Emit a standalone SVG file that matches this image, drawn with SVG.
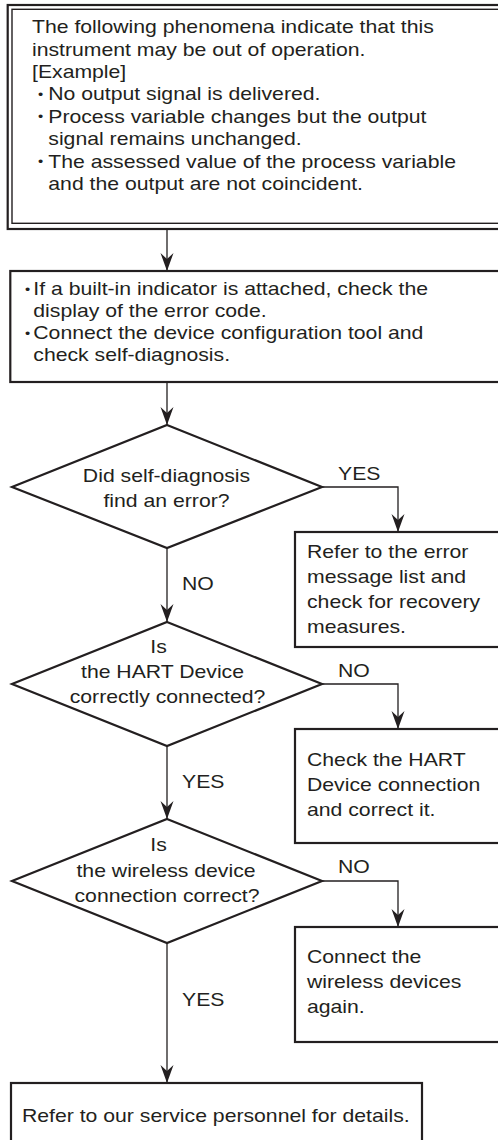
<svg xmlns="http://www.w3.org/2000/svg" width="498" height="1140" viewBox="0 0 498 1140">
<style>
.box{fill:#fff;stroke:#231f20;stroke-width:2.2}
.conn{fill:none;stroke:#231f20;stroke-width:1.3}
text{font-family:"Liberation Sans",Arial,sans-serif;font-size:18.6px;fill:#231f20}
.c{text-anchor:middle}
.b{font-size:13px}
</style>
<defs>
<marker id="arr" viewBox="-18 -7 19 14" refX="0" refY="0" markerWidth="19" markerHeight="14" markerUnits="userSpaceOnUse" orient="auto">
<path d="M0,0 L-18,-6.5 L-12,0 L-18,6.5 Z" fill="#231f20"/>
</marker>
</defs>
<rect width="498" height="1140" fill="#fff"/>

<g id="connectors">
<path class="conn" d="M167,229 V271" marker-end="url(#arr)"/>
<path class="conn" d="M167,382 V425" marker-end="url(#arr)"/>
<path class="conn" d="M322,487 H398 V532" marker-end="url(#arr)"/>
<path class="conn" d="M167,548 V622" marker-end="url(#arr)"/>
<path class="conn" d="M322,684 H398 V729" marker-end="url(#arr)"/>
<path class="conn" d="M167,746 V819" marker-end="url(#arr)"/>
<path class="conn" d="M322,881 H398 V927" marker-end="url(#arr)"/>
<path class="conn" d="M167,943 V1083" marker-end="url(#arr)"/>
<text transform="translate(338,480) scale(1.14,1)">YES</text>
<text transform="translate(182,590) scale(1.14,1)">NO</text>
<text transform="translate(338,677) scale(1.14,1)">NO</text>
<text transform="translate(182,788) scale(1.14,1)">YES</text>
<text transform="translate(338,873) scale(1.14,1)">NO</text>
<text transform="translate(182,1006) scale(1.14,1)">YES</text>
</g>

<g id="start">
<rect x="7.7" y="5" width="600" height="224" fill="#fff" stroke="#231f20" stroke-width="2.2"/>
<rect x="12" y="9.3" width="600" height="214" fill="none" stroke="#231f20" stroke-width="1.4"/>
<text transform="translate(32,33.3) scale(1.14,1)">The following phenomena indicate that this</text>
<text transform="translate(32,55.5) scale(1.14,1)">instrument may be out of operation.</text>
<text transform="translate(32,77.7) scale(1.14,1)">[Example]</text>
<text transform="translate(38,100) scale(1.14,1)"><tspan class="b" dy="-1.5">•</tspan><tspan x="9" dy="1.5">No output signal is delivered.</tspan></text>
<text transform="translate(38,122.5) scale(1.14,1)"><tspan class="b" dy="-1.5">•</tspan><tspan x="9" dy="1.5">Process variable changes but the output</tspan></text>
<text transform="translate(48.3,145) scale(1.14,1)">signal remains unchanged.</text>
<text transform="translate(38,167.5) scale(1.14,1)"><tspan class="b" dy="-1.5">•</tspan><tspan x="9" dy="1.5">The assessed value of the process variable</tspan></text>
<text transform="translate(48.3,190) scale(1.14,1)">and the output are not coincident.</text>
</g>

<g id="check">
<rect class="box" x="10.3" y="271" width="600" height="111"/>
<text transform="translate(25,295) scale(1.14,1)"><tspan class="b" dy="-1.5">•</tspan><tspan x="7.3" dy="1.5">If a built-in indicator is attached, check the</tspan></text>
<text transform="translate(33.3,317) scale(1.14,1)">display of the error code.</text>
<text transform="translate(25,339) scale(1.14,1)"><tspan class="b" dy="-1.5">•</tspan><tspan x="7.3" dy="1.5">Connect the device configuration tool and</tspan></text>
<text transform="translate(33.3,361) scale(1.14,1)">check self-diagnosis.</text>
</g>

<g id="d1">
<polygon class="box" points="167,425 322,487 167,548 12,487"/>
<text class="c" transform="translate(166.5,482) scale(1.14,1)">Did self-diagnosis</text>
<text class="c" transform="translate(166.5,507) scale(1.14,1)">find an error?</text>
</g>

<g id="errlist">
<rect class="box" x="295" y="532" width="220" height="115"/>
<text transform="translate(307,558) scale(1.14,1)">Refer to the error</text>
<text transform="translate(307,583) scale(1.14,1)">message list and</text>
<text transform="translate(307,608) scale(1.14,1)">check for recovery</text>
<text transform="translate(307,633) scale(1.14,1)">measures.</text>
</g>

<g id="d2">
<polygon class="box" points="167,622 322,684 167,746 12,684"/>
<text class="c" transform="translate(158.5,653) scale(1.14,1)">Is</text>
<text class="c" transform="translate(162.5,678) scale(1.14,1)">the HART Device</text>
<text class="c" transform="translate(167.5,703) scale(1.14,1)">correctly connected?</text>
</g>

<g id="hart">
<rect class="box" x="295" y="729" width="220" height="114"/>
<text transform="translate(307,766) scale(1.14,1)">Check the HART</text>
<text transform="translate(307,791) scale(1.14,1)">Device connection</text>
<text transform="translate(307,816) scale(1.14,1)">and correct it.</text>
</g>

<g id="d3">
<polygon class="box" points="167,819 322,881 167,943 12,881"/>
<text class="c" transform="translate(158.5,851) scale(1.14,1)">Is</text>
<text class="c" transform="translate(166,877) scale(1.14,1)">the wireless device</text>
<text class="c" transform="translate(167,902) scale(1.14,1)">connection correct?</text>
</g>

<g id="wireless">
<rect class="box" x="295" y="927" width="220" height="115"/>
<text transform="translate(307,963) scale(1.14,1)">Connect the</text>
<text transform="translate(307,988) scale(1.14,1)">wireless devices</text>
<text transform="translate(307,1013) scale(1.14,1)">again.</text>
</g>

<g id="service">
<rect class="box" x="11" y="1083" width="411" height="100"/>
<text transform="translate(22,1122) scale(1.14,1)">Refer to our service personnel for details.</text>
</g>
</svg>
